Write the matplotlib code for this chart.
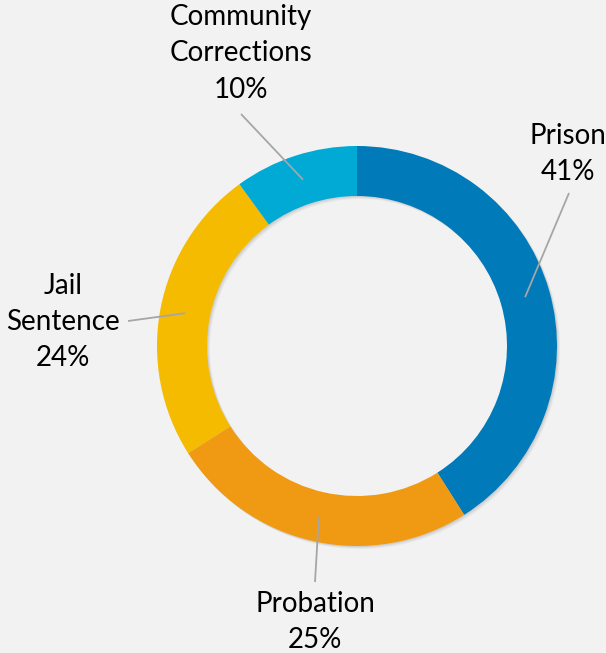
import numpy as np
import matplotlib
matplotlib.use("Agg")
import matplotlib.pyplot as plt

categories = ["Prison", "Probation", "Jail\nSentence", "Community\nCorrections"]
shares = [41, 25, 24, 10]
colors = ["#007AB8", "#F09A14", "#F5BB00", "#00AAD4"]

W, H = 606, 653
fig = plt.figure(figsize=(W / 100, H / 100), dpi=100, facecolor="#F2F2F2")
ax = fig.add_axes([0, 0, 1, 1])
ax.set_facecolor("#F2F2F2")

cx, cy, R, w = 357, H - 346, 200, 50

# soft shadow ring behind the donut
for k, a in [(3.0, 0.06), (2.0, 0.08), (1.0, 0.10)]:
    ax.pie([1], colors=["#555555"], center=(cx + k, cy - k), radius=R, frame=True,
           wedgeprops=dict(width=w, linewidth=0, alpha=a))

wedges, _ = ax.pie(shares, colors=colors, startangle=90, counterclock=False,
                   center=(cx, cy), radius=R, frame=True,
                   wedgeprops=dict(width=w, linewidth=0))
ax.set_xlim(0, W)
ax.set_ylim(0, H)
ax.set_aspect("equal")
ax.axis("off")

# label anchor (text center) and leader end (pixel coords, y from top)
label_pos = [(568, 154), (315, 622), (63, 322), (241, 53)]
leader_end = [(569, 193), (315, 582), (128, 321), (241, 114)]

for wdg, cat, val, (tx, ty), (lx, ly) in zip(wedges, categories, shares, label_pos, leader_end):
    ang = np.deg2rad((wdg.theta1 + wdg.theta2) / 2)
    r = R - w / 2
    sx, sy = cx + r * np.cos(ang), cy + r * np.sin(ang)
    ax.plot([sx, lx], [sy, H - ly], color="#A6A6A6", lw=1.3, solid_capstyle="butt")
    ax.text(tx, H - ty, f"{cat}\n{val}%", ha="center", va="center",
            fontsize=20, family=["Lato", "DejaVu Sans"], color="#000000",
            linespacing=1.5)

fig.savefig("out.png", dpi=100, facecolor=fig.get_facecolor())
